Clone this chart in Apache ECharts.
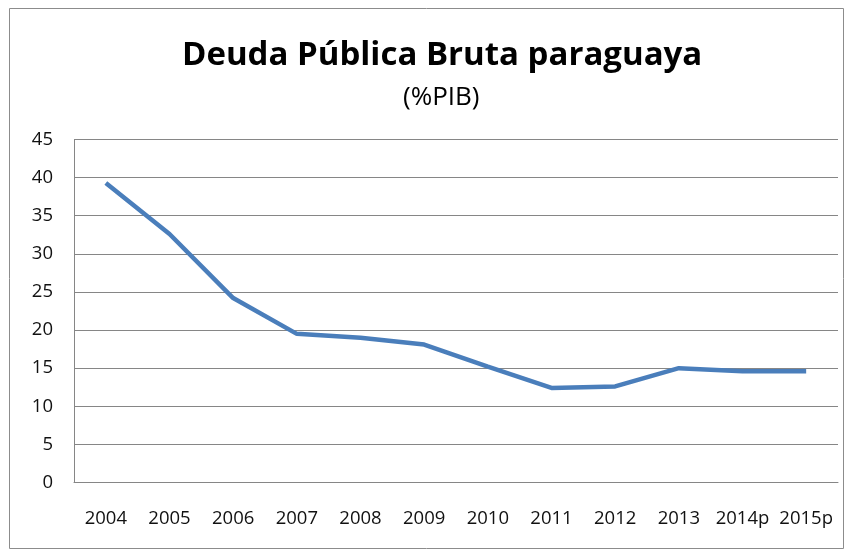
<!DOCTYPE html>
<html>
<head>
<meta charset="utf-8">
<script src="https://cdn.jsdelivr.net/npm/echarts@6/dist/echarts.min.js"></script>
<style>
  html, body { margin: 0; padding: 0; background: #fff; }
  #chart { width: 852px; height: 550px; }
</style>
</head>
<body>
<div id="chart"></div>
<script>
// datos
const years = ["2004", "2005", "2006", "2007", "2008", "2009", "2010", "2011", "2012", "2013", "2014p", "2015p"];
const deuda = [39.3, 32.6, 24.2, 19.5, 19.0, 18.1, 15.2, 12.4, 12.6, 15.0, 14.6, 14.6];
const yTicks = { min: 0, max: 45, step: 5 };

const chart = echarts.init(document.getElementById("chart"));
chart.setOption({
  animation: false,
  backgroundColor: "#fff",
  // el título está algo a la derecha del centro en el original
  title: [
    {
      text: "Deuda Pública Bruta paraguaya",
      left: 177,
      top: 34,
      textStyle: { fontFamily: "Open Sans", fontWeight: "bold", fontSize: 33, color: "#000" },
    },
    {
      text: "(%PIB)",
      left: 398,
      top: 80,
      textStyle: { fontFamily: "Open Sans", fontWeight: "normal", fontSize: 26, color: "#000" },
    },
  ],
  graphic: [
    {
      type: "rect",
      shape: { x: 9.5, y: 8.5, width: 834, height: 540 },
      style: { fill: "none", stroke: "#8c8c8c", lineWidth: 1 },
      silent: true,
    },
  ],
  grid: { left: 74, right: 14, top: 139.5, bottom: 67.5 },
  xAxis: {
    type: "category",
    data: years,
    boundaryGap: true,
    axisLine: { show: true, lineStyle: { color: "#868686", width: 1 } },
    axisTick: { show: false },
    axisLabel: { color: "#111", fontFamily: "Open Sans", fontSize: 18.5, margin: 27, interval: 0 },
  },
  yAxis: {
    type: "value",
    min: yTicks.min,
    max: yTicks.max,
    interval: yTicks.step,
    axisLine: { show: true, lineStyle: { color: "#868686", width: 1 } },
    axisTick: { show: false },
    axisLabel: { color: "#111", fontFamily: "Open Sans", fontSize: 18.5, margin: 21 },
    splitLine: { show: true, lineStyle: { color: "#868686", width: 1 } },
  },
  series: [
    {
      type: "line",
      data: deuda,
      symbol: "none",
      lineStyle: { color: "#4a7ebb", width: 4.5 },
    },
  ],
});
</script>
</body>
</html>
